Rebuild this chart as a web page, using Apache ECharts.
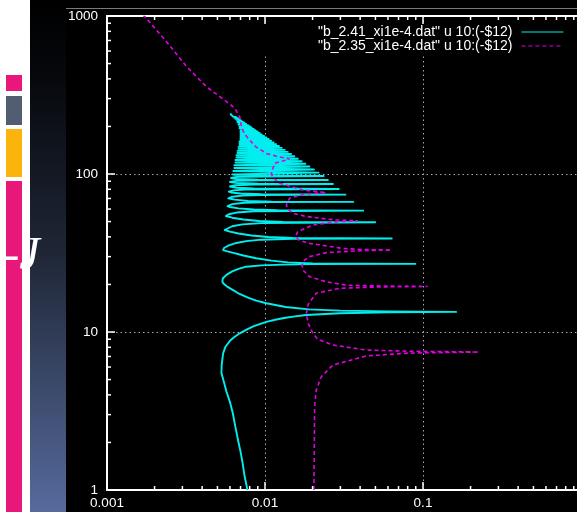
<!DOCTYPE html>
<html><head><meta charset="utf-8">
<script src="https://cdn.jsdelivr.net/npm/echarts@6/dist/echarts.min.js"></script>
<style>html,body{margin:0;padding:0;background:#000}#c{width:577px;height:512px}</style>
</head><body><div id="c"></div>
<script>
const seriesNames = ['"b_2.41_xi1e-4.dat" u 10:(-$12)', '"b_2.35_xi1e-4.dat" u 10:(-$12)'];
const xTickValues = [0.001, 0.01, 0.1, 1];
const xTickLabels = ['0.001', '0.01', '0.1', '1'];
const yTickValues = [1, 10, 100, 1000];
const yTickLabels = ['1', '10', '100', '1000'];
const xMinorTicks = [0.002,0.003,0.004,0.005,0.006,0.007,0.008,0.009,0.02,0.03,0.04,0.05,0.06,0.07,0.08,0.09,0.2,0.3,0.4,0.5,0.6,0.7,0.8,0.9];
const yMinorTicks = [2,3,4,5,6,7,8,9,20,30,40,50,60,70,80,90,200,300,400,500,600,700,800,900];

// series 1 ("b_2.41"): [x, y] points
const cyanPoints = [
 [0.00774,1],[0.0074,1.25],[0.0072,1.5],[0.0070,1.75],[0.0068,2],[0.0065,2.5],[0.00625,3.07],[0.0060,3.6],[0.0057,4.2],[0.0055,4.8],[0.0053,5.5],[0.00532,6.2],[0.00543,7.33],[0.0056,8.0],[0.0060,8.8],[0.0064,9.3],[0.00692,9.81],[0.0077,10.4],[0.0085,10.9],[0.0102,11.6],[0.0118,12.0],[0.0135,12.3],[0.0155,12.55],[0.01825,12.8],[0.03,13.15],[0.06,13.32],[0.162,13.4],[0.06,13.5],[0.03,13.65],[0.019,13.9],[0.0135,14.4],[0.0102,15.2],[0.0088,15.8],[0.0078,16.5],[0.0069,17.4],[0.00628,18.4],[0.0058,19.3],[0.0055,20.1],[0.00537,20.8],
 [0.0054,21.8],[0.0057,23.0],[0.0062,24.2],[0.0068,25.1],[0.0076,25.9],[0.0095,26.4],[0.013,26.7],[0.02,26.88],[0.0895,27.0],[0.02,27.2],[0.014,27.6],[0.011,28.3],[0.0088,29.3],[0.0073,30.5],[0.0063,31.7],[0.0057,32.5],[0.00543,33.0],
 [0.0055,34.0],[0.0059,35.3],[0.0066,36.6],[0.0076,37.6],[0.0095,38.4],[0.015,38.9],[0.0634,39.1],[0.015,39.35],[0.0105,39.9],[0.0082,40.8],[0.0068,42.0],[0.0060,43.2],[0.00556,44.2],
 [0.0057,45.4],[0.0062,46.7],[0.0072,48.0],[0.0095,48.9],[0.0498,49.5],[0.013,49.8],[0.0092,50.4],[0.0073,51.5],[0.0062,52.9],[0.00565,54.2],
 [0.0059,55.6],[0.0066,57.0],[0.0085,58.1],[0.0418,58.6],[0.012,58.9],[0.0085,59.6],[0.0068,60.6],[0.006,61.8],[0.00579,62.7],
 [0.0062,64.5],[0.0074,65.8],[0.011,66.4],[0.0362,66.6],[0.011,66.9],[0.0078,67.6],[0.0064,68.8],[0.00586,70.2],
 [0.0062,71.8],[0.0072,73.0],[0.0095,73.7],[0.0323,74.0],[0.0095,74.4],[0.007,75.3],[0.0061,76.4],[0.0059,77.3],
 [0.0063,78.8],[0.0075,79.8],[0.0293,80.4],[0.0085,80.9],[0.0066,81.9],[0.0060,83.4],
 [0.0065,84.9],[0.0085,85.9],[0.0269,86.4],[0.009,86.8],[0.0066,87.8],[0.0060,89.0],
 [0.0066,90.5],[0.009,91.3],[0.025,91.6],[0.009,92.0],[0.0066,93.0],[0.0061,94.3],
 [0.0068,96.0],[0.0235,97.1],[0.0065,98.8],[0.0062,99.5],
 [0.0218,102],[0.0063,104.4],[0.0204,106.8],[0.0064,109.1],[0.0191,111.5],[0.0064,113.7],[0.0180,116],[0.0065,118.2],
 [0.01705,120.5],[0.0065,122.7],[0.01614,125],[0.0066,127.2],[0.01534,129.4],[0.0066,131.5],[0.01461,133.7],[0.0067,135.8],
 [0.01394,138],[0.0067,140.1],[0.01334,142.2],[0.0068,144.3],[0.01277,146.4],[0.0068,148.4],[0.01226,150.5],[0.0069,152.5],
 [0.01178,154.6],[0.0069,156.6],[0.01134,158.6],[0.0069,160.6],[0.01093,162.6],[0.0070,164.5],[0.01055,166.5],[0.0070,168.4],
 [0.01019,170.4],[0.0070,172.3],[0.00986,174.3],[0.0070,176.2],[0.00954,178.1],[0.0070,180],[0.00925,181.9],[0.0070,183.8],
 [0.00897,185.7],[0.0070,187.5],[0.00871,189.4],[0.0070,191.2],[0.00847,193.1],[0.0069,195],[0.00823,196.8],[0.0069,198.6],
 [0.00801,200.4],[0.0069,202.2],[0.00781,204],[0.0068,205.8],[0.0076,207.6],[0.0068,209.4],[0.00741,211.2],[0.0067,213],
 [0.00724,214.7],[0.0067,216.4],[0.00706,218.2],[0.0066,220],[0.0069,221.7],[0.0065,223.4],[0.00674,225.2],[0.0064,226.9],
 [0.00659,228.6],[0.0063,230.3],[0.00645,232],[0.0062,233.7],[0.00631,235.4],[0.0061,237.1],[0.00618,238.8],[0.00605,242]
];

// series 2 ("b_2.35"): [x, y] points
const magentaPoints = [
 [0.0204,1],[0.0205,1.8],[0.0206,3.37],[0.0211,4.29],[0.0227,5.21],[0.0269,6.18],[0.0437,7.05],[0.08,7.35],[0.225,7.47],[0.08,7.56],[0.0437,7.69],[0.0269,8.27],[0.0215,9.0],[0.0201,9.81],[0.0188,11.3],[0.01825,13.1],[0.0188,15.0],[0.0211,17.6],[0.0296,18.9],[0.055,19.3],[0.107,19.4],[0.055,19.55],[0.0327,19.8],[0.0244,20.8],[0.0191,22.4],[0.0175,24.5],[0.01714,26.5],[0.0178,28.5],[0.0191,30.0],[0.0244,31.8],[0.04,32.7],[0.0629,33.0],[0.04,33.3],[0.0311,33.8],[0.0191,36.4],[0.0163,38.2],[0.0156,40.5],[0.0161,43.1],[0.0201,47.6],[0.028,49.8],[0.0387,50.6],[0.028,51.2],[0.0244,51.9],[0.018,54],[0.01503,56.4],[0.0139,60],[0.01365,63.6],[0.0143,70.2],[0.0174,74.4],[0.0244,76.2],[0.0174,79.2],[0.0124,87.3],[0.0112,95],[0.01097,101],[0.0115,117],[0.01365,122.6],[0.0143,124.5],[0.012,129],[0.0102,135],[0.0088,148],[0.0080,164],[0.0074,180],[0.0071,199],[0.00692,230],[0.0066,250],[0.00644,261],[0.0057,287],[0.00426,357],[0.00319,478],[0.00238,688],[0.00174,990],[0.0017,1000]
];

function lookup(vals, labels, v) {
  for (let i = 0; i < vals.length; i++) if (Math.abs(Math.log10(v) - Math.log10(vals[i])) < 1e-6) return labels[i];
  return '';
}
const white = '#ffffff';
const font = 'Liberation Sans';
const xMin = xTickValues[0], xMax = xTickValues[xTickValues.length - 1];
const yMin = yTickValues[0], yMax = yTickValues[yTickValues.length - 1];
const minorLen = 4;
const tickStyle = {stroke: white, lineWidth: 1.5};

function renderXMinor(params, api) {
  const v = api.value(0);
  const b = api.coord([v, yMin]), t = api.coord([v, yMax]);
  return {type: 'group', children: [
    {type: 'line', shape: {x1: b[0], y1: b[1], x2: b[0], y2: b[1] - minorLen}, style: tickStyle},
    {type: 'line', shape: {x1: t[0], y1: t[1], x2: t[0], y2: t[1] + minorLen}, style: tickStyle}
  ]};
}
function renderYMinor(params, api) {
  const v = api.value(1);
  const l = api.coord([xMin, v]);
  return {type: 'line', shape: {x1: l[0], y1: l[1], x2: l[0] + minorLen, y2: l[1]}, style: tickStyle};
}

const chart = echarts.init(document.getElementById('c'), null, {renderer: 'canvas'});
chart.setOption({
  backgroundColor: '#000',
  animation: false,
  graphic: [
    {type: 'rect', shape: {x: 0, y: 0, width: 30, height: 512}, style: {fill: '#fff'}, z: -10},
    {type: 'rect', shape: {x: 30, y: 0, width: 36, height: 512}, z: -10,
      style: {fill: new echarts.graphic.LinearGradient(0, 0, 0, 1, [
        {offset: 0, color: '#000000'}, {offset: 0.15, color: '#06080c'}, {offset: 0.5, color: '#1f2737'}, {offset: 1, color: '#566a9c'}])}},
    {type: 'rect', shape: {x: 6, y: 75, width: 16, height: 16}, style: {fill: '#e8177a'}, z: -5},
    {type: 'rect', shape: {x: 6, y: 96, width: 16, height: 29}, style: {fill: '#535d72'}, z: -5},
    {type: 'rect', shape: {x: 6, y: 129, width: 16, height: 48}, style: {fill: '#fbb40c'}, z: -5},
    {type: 'rect', shape: {x: 6, y: 181, width: 16, height: 331}, style: {fill: '#e8177a'}, z: -5},
    {type: 'text', x: 4, y: 257, z: -4, style: {text: '-J', font: 'italic 46px "Liberation Serif"', fill: '#fff', verticalAlign: 'middle'}},
    {type: 'rect', shape: {x: 66, y: 8, width: 511, height: 1}, style: {fill: '#7a7a7a'}, z: -5}
  ],
  grid: {left: 107, top: 16, width: 474, height: 474, outerBoundsMode: 'none', containLabel: false},
  legend: {
    orient: 'vertical', right: 0, top: 25, align: 'right',
    itemWidth: 42, itemHeight: 12.5, itemGap: 0,
    padding: [0, 13, 3, 58], backgroundColor: '#000',
    itemStyle: {opacity: 0},
    lineStyle: {width: 1.2},
    textStyle: {color: white, fontSize: 14, fontFamily: font, lineHeight: 12.5, padding: [0, 4, 0, 0]},
    data: seriesNames
  },
  xAxis: [
    {type: 'log', min: xMin, max: xMax, position: 'bottom',
      axisLine: {onZero: false, lineStyle: {color: white, width: 2}},
      axisTick: {inside: true, length: 8, lineStyle: {color: white, width: 1.5}},
      axisLabel: {color: white, fontSize: 13.5, fontFamily: font, margin: 6,
        formatter: v => lookup(xTickValues, xTickLabels, v)},
      splitLine: {show: true, lineStyle: {color: '#a8a8a8', width: 1, type: [1.5, 3]}}},
    {type: 'log', min: xMin, max: xMax, position: 'top',
      axisLine: {onZero: false, lineStyle: {color: white, width: 2}}, axisLabel: {show: false}, splitLine: {show: false},
      axisTick: {inside: true, length: 8, lineStyle: {color: white, width: 1.5}}}
  ],
  yAxis: [
    {type: 'log', min: yMin, max: yMax, position: 'left',
      axisLine: {onZero: false, lineStyle: {color: white, width: 2}},
      axisTick: {inside: true, length: 8, lineStyle: {color: white, width: 1.5}},
      axisLabel: {color: white, fontSize: 13.5, fontFamily: font, margin: 9,
        formatter: v => lookup(yTickValues, yTickLabels, v)},
      splitLine: {show: true, lineStyle: {color: '#a8a8a8', width: 1, type: [1.5, 3]}}}
  ],
  series: [
    {name: seriesNames[0], type: 'line', xAxisIndex: 0, yAxisIndex: 0, data: cyanPoints,
      symbol: 'none', color: '#00eeee', lineStyle: {color: '#00eeee', width: 1.9, join: 'round'}, z: 2},
    {name: seriesNames[1], type: 'line', xAxisIndex: 0, yAxisIndex: 0, data: magentaPoints,
      symbol: 'none', color: '#e000e0', lineStyle: {color: '#e000e0', width: 1.6, type: [4, 3]}, z: 3},
    {type: 'custom', name: 'xminor', xAxisIndex: 0, yAxisIndex: 0, clip: false, silent: true, z: 5,
      data: xMinorTicks.map(v => [v, yMin]), renderItem: renderXMinor},
    {type: 'custom', name: 'yminor', xAxisIndex: 0, yAxisIndex: 0, clip: false, silent: true, z: 5,
      data: yMinorTicks.map(v => [xMin, v]), renderItem: renderYMinor}
  ]
});
</script></body></html>
